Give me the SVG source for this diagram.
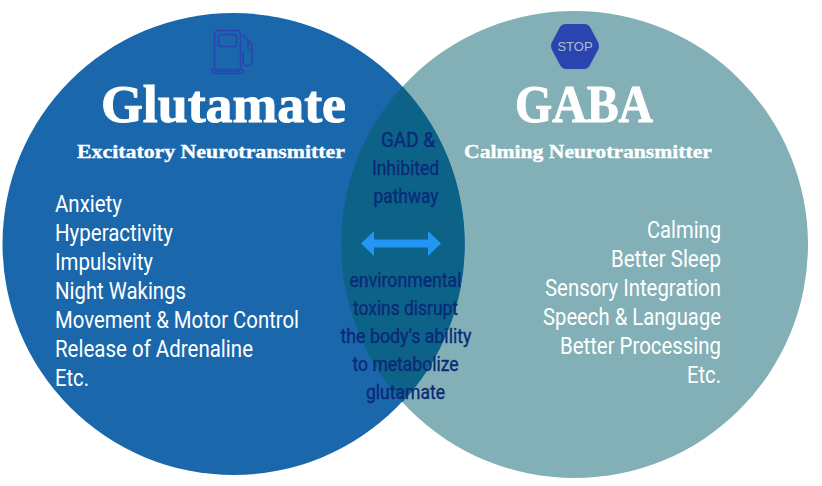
<svg xmlns="http://www.w3.org/2000/svg" width="822" height="486" viewBox="0 0 822 486">
<style>
.h{font-family:"Liberation Serif",serif;font-weight:700;fill:#fff;stroke:#fff}
.t{font-family:Roboto,"Liberation Sans",sans-serif;font-size:23px;fill:#fff}
.m{font-family:Roboto,"Liberation Sans",sans-serif;font-size:21px;fill:#0a2a78;stroke:#0a2a78;stroke-width:.4;text-anchor:middle}
</style>
<rect width="822" height="486" fill="#fff"/>
<g id="circle-gaba"><circle cx="574.5" cy="244.500" r="233.500" fill="#82b0b6"/></g>
<g id="circle-glutamate"><circle cx="233.500" cy="244" r="231" fill="#1a67ac"/></g>
<g id="overlap"><path d="M402.500 86.500A233.500 233.500 0 0 0 402.500 402A231 231 0 0 0 402.500 86.500Z" fill="#0d6288"/></g>
<g id="icon-fuel" fill="none" stroke="#2a45b0" stroke-width="1.6">
<rect x="214.500" y="30.500" width="26" height="41" rx="4"/>
<rect x="218.500" y="34.500" width="18" height="12" rx="2"/>
<rect x="212.500" y="69.500" width="30" height="4"/>
<path d="M243 35L252 45V59C252 68 243 68 243 60V52M248 41V48L252 52"/>
</g>
<g id="icon-stop"><path d="M566 24H584Q588 24 590 27L598 42Q600 46 598 50L590 65Q588 69 584 69H566Q562 69 560 65L552 50Q550 46 552 42L560 27Q562 24 566 24Z" fill="#2a45b0"/><text x="575" y="51" font-family="Liberation Sans,sans-serif" font-size="13" fill="#a4c0cc" text-anchor="middle">STOP</text></g>
<g id="glutamate-text">
<text class="h" x="101" y="122" font-size="53" stroke-width="1" textLength="245" lengthAdjust="spacingAndGlyphs">Glutamate</text>
<text class="h" x="77" y="158" font-size="19" stroke-width=".35" textLength="268" lengthAdjust="spacingAndGlyphs">Excitatory Neurotransmitter</text>
<text class="t" x="55" y="212" textLength="67" lengthAdjust="spacingAndGlyphs">Anxiety</text>
<text class="t" x="55" y="241" textLength="118" lengthAdjust="spacingAndGlyphs">Hyperactivity</text>
<text class="t" x="55" y="270" textLength="98" lengthAdjust="spacingAndGlyphs">Impulsivity</text>
<text class="t" x="55" y="299" textLength="131" lengthAdjust="spacingAndGlyphs">Night Wakings</text>
<text class="t" x="55" y="328" textLength="244" lengthAdjust="spacingAndGlyphs">Movement &amp; Motor Control</text>
<text class="t" x="55" y="357" textLength="198" lengthAdjust="spacingAndGlyphs">Release of Adrenaline</text>
<text class="t" x="55" y="386" textLength="34" lengthAdjust="spacingAndGlyphs">Etc.</text>
</g>
<g id="gaba-text">
<text class="h" x="515" y="122" font-size="53" stroke-width="1" textLength="138" lengthAdjust="spacingAndGlyphs">GABA</text>
<text class="h" x="464" y="158" font-size="19" stroke-width=".35" textLength="248" lengthAdjust="spacingAndGlyphs">Calming Neurotransmitter</text>
<text class="t" x="647" y="238" textLength="74" lengthAdjust="spacingAndGlyphs">Calming</text>
<text class="t" x="611" y="267" textLength="110" lengthAdjust="spacingAndGlyphs">Better Sleep</text>
<text class="t" x="545" y="296" textLength="176" lengthAdjust="spacingAndGlyphs">Sensory Integration</text>
<text class="t" x="543" y="325" textLength="178" lengthAdjust="spacingAndGlyphs">Speech &amp; Language</text>
<text class="t" x="560" y="354" textLength="161" lengthAdjust="spacingAndGlyphs">Better Processing</text>
<text class="t" x="687" y="383" textLength="34" lengthAdjust="spacingAndGlyphs">Etc.</text>
</g>
<g id="overlap-text">
<text class="m" x="408" y="147" textLength="54" lengthAdjust="spacingAndGlyphs">GAD &amp;</text>
<text class="m" x="405.500" y="175" textLength="67" lengthAdjust="spacingAndGlyphs">Inhibited</text>
<text class="m" x="406" y="203" textLength="65" lengthAdjust="spacingAndGlyphs">pathway</text>
<text class="m" x="405.500" y="287" textLength="112" lengthAdjust="spacingAndGlyphs">environmental</text>
<text class="m" x="405.500" y="315" textLength="105" lengthAdjust="spacingAndGlyphs">toxins disrupt</text>
<text class="m" x="406" y="343" textLength="131" lengthAdjust="spacingAndGlyphs">the body’s ability</text>
<text class="m" x="405.500" y="371" textLength="106" lengthAdjust="spacingAndGlyphs">to metabolize</text>
<text class="m" x="405.500" y="399" textLength="79" lengthAdjust="spacingAndGlyphs">glutamate</text>
</g>
<g id="connectors"><path d="M361 243.500L374 231V239.500H428V231L441 243.500L428 256V247.500H374V256Z" fill="#2196f3"/></g>
</svg>
